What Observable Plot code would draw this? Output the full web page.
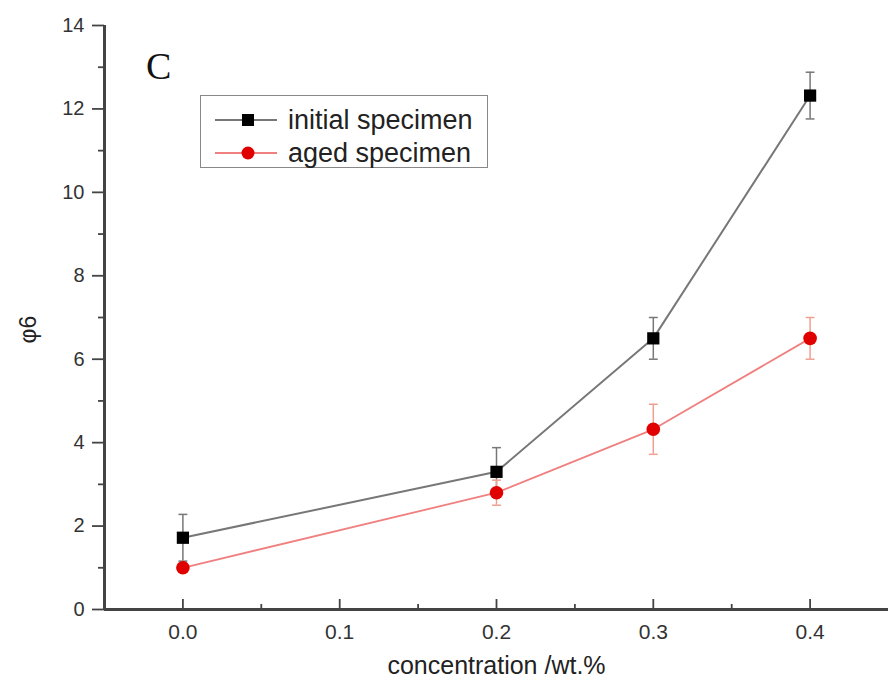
<!DOCTYPE html>
<html>
<head>
<meta charset="utf-8">
<script src="https://cdn.jsdelivr.net/npm/d3@7"></script>
<script src="https://cdn.jsdelivr.net/npm/@observablehq/plot@0.6"></script>
<style>
  body { margin: 0; background: #fff; }
  #wrap { position: relative; width: 888px; height: 694px; overflow: hidden; font-family: "Liberation Sans", Arial, sans-serif; }
  #panel { position: absolute; left: 146px; top: 44px; font-family: "Liberation Serif", "DejaVu Serif", serif; font-size: 38px; line-height: 44px; color: #111; }
  #legend { position: absolute; left: 200px; top: 95px; width: 288px; height: 73px; border: 1.5px solid #888; box-sizing: border-box; background: #fff; }
  .row { position: absolute; left: 13px; height: 30px; display: flex; align-items: center; font-size: 27px; color: #222; white-space: nowrap; }
  .row svg { margin-right: 10px; flex: none; }
</style>
</head>
<body>
<div id="wrap">
  <div id="chart"></div>
  <div id="panel">C</div>
  <div id="legend">
    <div class="row" style="top:9px">
      <svg width="64" height="20"><line x1="1" y1="10" x2="63" y2="10" stroke="#777" stroke-width="2"/><rect x="28" y="4" width="12" height="12" fill="#000"/></svg>initial specimen
    </div>
    <div class="row" style="top:42px">
      <svg width="64" height="20"><line x1="1" y1="10" x2="63" y2="10" stroke="#f08080" stroke-width="2"/><circle cx="34" cy="10" r="6.5" fill="#e00000"/></svg>aged specimen
    </div>
  </div>
</div>
<script>
const concentration = [0.0, 0.2, 0.3, 0.4];
const initialValues = [1.72, 3.3, 6.5, 12.32];
const initialErrors = [0.56, 0.58, 0.5, 0.56];
const agedValues = [1.0, 2.8, 4.32, 6.5];
const agedErrors = [0.1, 0.3, 0.6, 0.5];
const xMajorTicks = [0.0, 0.1, 0.2, 0.3, 0.4];
const xMinorTicks = [0.05, 0.15, 0.25, 0.35];
const yMajorTicks = [0, 2, 4, 6, 8, 10, 12, 14];
const yMinorTicks = [1, 3, 5, 7, 9, 11, 13];

const initial = concentration.map((c, i) => ({x: c, y: initialValues[i], e: initialErrors[i]}));
const aged = concentration.map((c, i) => ({x: c, y: agedValues[i], e: agedErrors[i]}));

const cap = {draw(ctx, size) { const w = Math.sqrt(size) / 2; ctx.moveTo(-w, 0); ctx.lineTo(w, 0); }};

function errorMarks(data, color) {
  return [
    Plot.ruleX(data, {x: "x", y1: d => d.y - d.e, y2: d => d.y + d.e, stroke: color, strokeWidth: 1.5}),
    Plot.dot(data, {x: "x", y: d => d.y + d.e, symbol: cap, r: 5, stroke: color, strokeWidth: 1.5, fill: "none"}),
    Plot.dot(data, {x: "x", y: d => d.y - d.e, symbol: cap, r: 5, stroke: color, strokeWidth: 1.5, fill: "none"})
  ];
}

const noLabel = () => "";

const chart = Plot.plot({
  width: 888,
  height: 694,
  marginLeft: 104,
  marginRight: 0,
  marginTop: 25,
  marginBottom: 85,
  style: {fontFamily: "'Liberation Sans', Arial, sans-serif", color: "#333", background: "#fff"},
  x: {domain: [-0.05, 0.45]},
  y: {domain: [0, 14]},
  marks: [
    Plot.axisX({ticks: xMajorTicks, tickFormat: d3.format(".1f"), tickSize: -10, tickPadding: 25, stroke: "#444", strokeWidth: 1.8, fontSize: 21, fill: "#333", label: null}),
    Plot.axisX({ticks: xMinorTicks, tickFormat: noLabel, tickSize: -5, stroke: "#444", strokeWidth: 1.8, label: null}),
    Plot.axisY({ticks: yMajorTicks, tickSize: 12, tickPadding: 8, stroke: "#444", strokeWidth: 1.8, fontSize: 20, fill: "#333", label: null}),
    Plot.axisY({ticks: yMinorTicks, tickFormat: noLabel, tickSize: 6, stroke: "#444", strokeWidth: 1.8, label: null}),
    Plot.text(["concentration /wt.%"], {frameAnchor: "bottom", dy: 64, fontSize: 25, fill: "#222"}),
    Plot.text(["φ6"], {frameAnchor: "left", dx: -76, dy: 26, rotate: -90, fontSize: 23, fill: "#222"}),
    ...errorMarks(initial, "#777"),
    ...errorMarks(aged, "#f0a090"),
    Plot.line(initial, {x: "x", y: "y", stroke: "#777", strokeWidth: 2}),
    Plot.line(aged, {x: "x", y: "y", stroke: "#f08080", strokeWidth: 1.8}),
    Plot.dot(initial, {x: "x", y: "y", symbol: "square", r: 6.9, fill: "#000"}),
    Plot.dot(aged, {x: "x", y: "y", symbol: "circle", r: 6.8, fill: "#e00000"}),
    Plot.ruleY([0], {stroke: "#444", strokeWidth: 3}),
    Plot.ruleX([-0.05], {stroke: "#444", strokeWidth: 3})
  ]
});
document.getElementById("chart").appendChild(chart);
</script>
</body>
</html>
